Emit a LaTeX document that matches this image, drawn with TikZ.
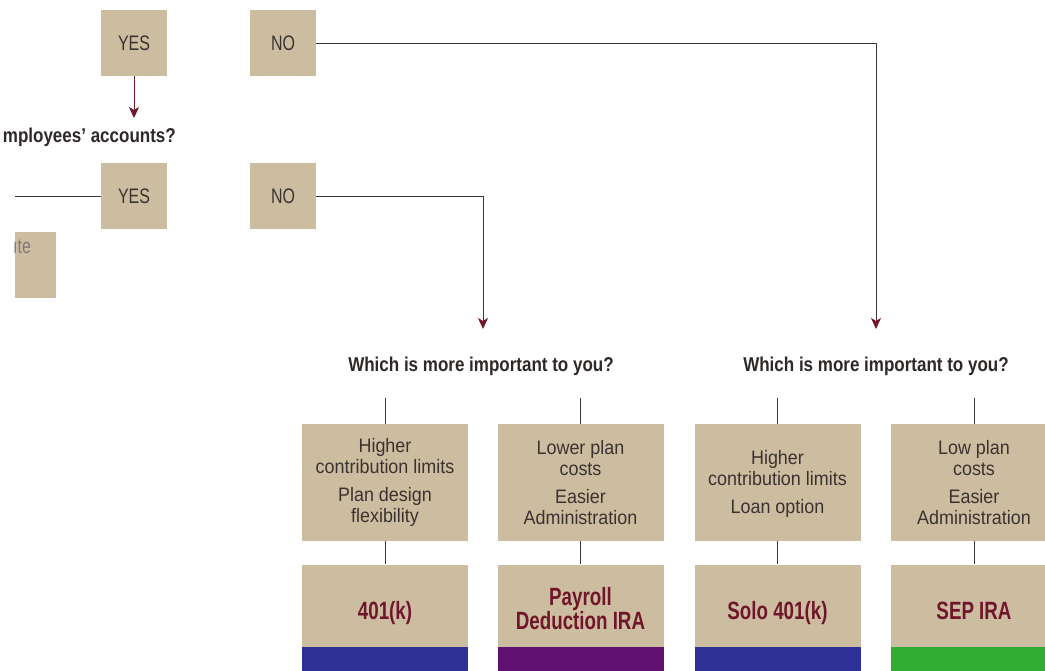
\documentclass[tikz,border=0pt]{standalone}
\usepackage{fontspec}
\setmainfont[FakeStretch=0.82]{Liberation Sans}
\newfontfamily\critfont[FakeStretch=0.92]{Liberation Sans}
\newfontfamily\ansfont[FakeStretch=0.76]{Liberation Sans}
\newfontfamily\qfont[FakeStretch=0.85]{Liberation Sans}
\newfontfamily\planfont[FakeStretch=0.75]{Liberation Sans}
\usetikzlibrary{arrows.meta}
\definecolor{tan}{RGB}{205,189,160}
\definecolor{maroon}{RGB}{112,22,42}
\definecolor{barblue}{RGB}{46,48,150}
\definecolor{barpurple}{RGB}{96,16,112}
\definecolor{bargreen}{RGB}{48,172,48}
\definecolor{txt}{RGB}{58,50,48}
\definecolor{conn}{RGB}{60,56,56}
\tikzset{
  answer/.style={fill=tan, minimum width=66pt, minimum height=66pt, inner sep=0pt,
    text=txt, font=\ansfont\fontsize{21}{23}\selectfont},
  crit/.style={fill=tan, minimum width=166pt, minimum height=117pt, inner sep=0pt,
    align=center, text=txt, font=\critfont\fontsize{19.5}{21.5}\selectfont},
  planbox/.style={fill=tan, minimum width=166pt, minimum height=82pt, inner sep=0pt},
  plantext/.style={align=center, text=maroon, inner sep=0pt,
    font=\planfont\bfseries\fontsize{25}{23}\selectfont},
  bar/.style={minimum width=166pt, minimum height=30pt, inner sep=0pt},
  question/.style={text=txt!80!black, font=\qfont\bfseries\fontsize{20}{22}\selectfont, inner sep=0pt},
  conline/.style={draw=conn, line width=0.8pt},
  arrowline/.style={conline, -{Stealth[length=11pt,width=10pt,inset=3pt,color=maroon]}},
}
\begin{document}
\begin{tikzpicture}[x=1pt,y=-1pt]
\clip (0,0) rectangle (1045,671);
\fill[white] (0,0) rectangle (1045,671);

% top answers
\node[answer] (yes1) at (134,43) {YES};
\node[answer] (no1) at (283,43) {NO};
\coordinate (yes1tip) at (134,118);
\draw[arrowline, draw=maroon] (yes1.south) -- (yes1tip);

\node[question, anchor=east] (q0) at (176,137) {mployees’ accounts?};

\node[answer] (yes2) at (134,196) {YES};
\node[answer] (no2) at (283,196) {NO};
\coordinate (leftend) at (15,196);
\draw[conline] (leftend) -- (yes2.west);

% partial box at left
\fill[tan] (15,232) rectangle (56,298);
\node[anchor=west, text=txt!65!white, font=\ansfont\fontsize{21}{23}\selectfont, inner sep=0pt] (lt) at (13,247) {ıte};

% long connectors
\coordinate (a1) at (483,329);
\coordinate (a2) at (876,329);
\draw[arrowline] (no2.east) -| (a1);
\draw[arrowline] (no1.east) -| (a2);

\node[question] (q1) at (481,366) {Which is more important to you?};
\node[question] (q2) at (876,366) {Which is more important to you?};

% criteria boxes
\node[crit] (c1) at (385,482.5) {Higher\\contribution limits\\[6pt]Plan design\\flexibility};
\node[crit] (c2) at (580.5,482.5) {Lower plan\\costs\\[6pt]Easier\\Administration};
\node[crit] (c3) at (777.5,482.5) {\\[-5pt]Higher\\contribution limits\\[6pt]Loan option};
\node[crit] (c4) at (974,482.5) {Low plan\\costs\\[6pt]Easier\\Administration};

\coordinate (t1) at (385,398);
\coordinate (t2) at (580.5,398);
\coordinate (t3) at (777.5,398);
\coordinate (t4) at (974,398);
\foreach \i in {1,2,3,4} { \draw[conline] (t\i) -- (c\i.north); }

% plan boxes
\node[planbox] (p1) at (385,605.5) {};
\node[planbox] (p2) at (580.5,605.5) {};
\node[planbox] (p3) at (777.5,605.5) {};
\node[planbox] (p4) at (974,605.5) {};
\node[plantext, anchor=base] (n1) at (385,619) {401(k)};
\node[plantext] (n2) at (580.5,608.5) {Payroll\\Deduction IRA};
\node[plantext, anchor=base] (n3) at (777.5,619) {Solo 401(k)};
\node[plantext, anchor=base] (n4) at (974,619) {SEP IRA};
\foreach \i in {1,2,3,4} { \draw[conline] (c\i.south) -- (p\i.north); }

\node[bar, fill=barblue, anchor=north] (b1) at (p1.south) {};
\node[bar, fill=barpurple, anchor=north] (b2) at (p2.south) {};
\node[bar, fill=barblue, anchor=north] (b3) at (p3.south) {};
\node[bar, fill=bargreen, anchor=north] (b4) at (p4.south) {};
\end{tikzpicture}
\end{document}
